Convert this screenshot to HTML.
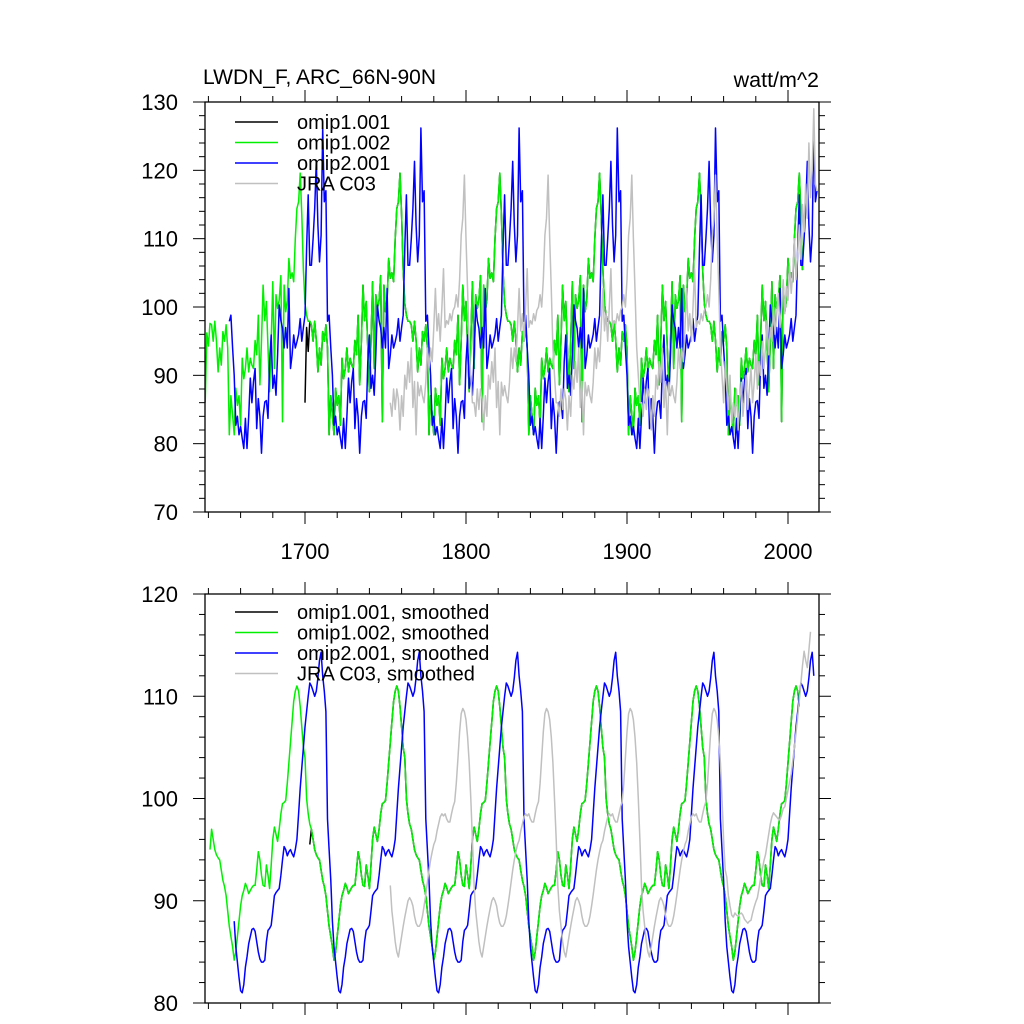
<!DOCTYPE html>
<html><head><meta charset="utf-8"><style>
html,body{margin:0;padding:0;background:#fff;}
svg{display:block;font-family:"Liberation Sans",Helvetica,Arial,sans-serif;}
</style></head><body>
<svg id="chart" width="1024" height="1024" viewBox="0 0 1024 1024" xmlns="http://www.w3.org/2000/svg">
<text x="203" y="84" font-size="21">LWDN_F, ARC_66N-90N</text>
<text x="819" y="87" font-size="21.5" text-anchor="end">watt/m^2</text>
<g id="topPanel"></g>
<g id="botPanel"></g>
</svg>
<script>
// ---- data (one forcing cycle per series; runs are cycled) ----
const greenCycleStart = 1638;   // omip1: 62-yr CORE cycles
const blueCycleStart = 1653;    // omip2: 61-yr JRA cycles
const nCycles = 6;
const greenRaw = [100.5,98.8,97.9,97.9,97.4,95,97.9,95.1,90.5,94,91.5,96.4,95,97.4,94,81.3,87,84.2,81.3,88.1,85.6,87,82.7,92.5,89.5,91,94,90.5,92.5,91.5,91,95.1,93,98.8,88.6,95.1,103.2,98,100.8,94,87.6,95,103.7,91,101.8,99.8,101,104.6,83.2,103.2,99.3,101,107.1,104.2,105,103.7,110,114.4,115.4,119.6,113.5,105.4];
const greenRawFirst = [86,96.2,94.3,97.6];
const blackRawFirst = [86,97,93.5];
const blueRaw = [97.9,98.8,94,90,82.7,84,81.3,82.5,80.8,79.3,83.7,79.3,84,89.6,86,89.1,91,82.2,86.6,84,78.6,84,86.1,86.3,83.7,92,95.9,88.1,90,87.1,93,100.3,98,96.9,94,97,94,102.7,91,93,95.9,94,94.9,96,98.3,95,97,98.8,108.6,116.4,106.1,106.1,110,114.4,121.3,112,106.6,110.5,126.2,115.4,117];
const greenSmooth = [104,100,98.5,97.5,97,96,95,94.5,94.2,94,93,92,91.4,90.5,89,87.5,86.5,85.5,84.2,85,86.5,88,89.5,90.5,91,91.7,91.3,90.7,91,91.3,91.5,91.5,93,94.8,94,92.5,91.5,91.4,93.5,92.5,91.2,93.5,96,97.2,96.5,95.8,97,98.5,99.5,99.6,99.8,101.5,103.5,105.5,107.5,109.5,110.5,111,110.5,109,107,105];
const greenSmoothFirst = [94.3,95,95.4,95];
const blackSmoothFirst = [95.7,95.7,95.7,95.5];
const blueSmooth = [98,95,92,88,85.5,84,82.5,81.2,81,81.8,83.5,84.5,85.8,86.5,87.2,87.3,87,86,85,84.3,84,84,84.2,86,87.1,87.3,87.6,89,90.5,90.8,91,91.2,92.5,94,95.3,95,94.4,94.8,95,94.6,94.3,95,96,98.5,101,103,105,107,108.5,110,111.3,111,110.5,110,110.5,111.8,113.5,114.3,112,110.5,108.5];
const grayCycleStarts = [1753,1805,1857,1909];
const grayRaw = [86,84,88,85,88,86.5,82,87,84,90,88,92,89,94,85.3,89.1,81.3,89,87,88.5,87,86,89,94,91,94,92,97,102.7,96.5,99,95,100,105.6,97,98,97.5,99,98,99.5,100,101.8,100,104,110.5,113,119.3,110,102.5,94,90,86];
const graySmooth = [91.5,89,87.5,86,85,84.5,85.5,86.5,87.5,88.4,89.2,90,90.3,90,89.5,88.5,87.8,87.5,87.5,87.8,88.5,89.5,90.6,91.8,93,94,94.8,95.5,95.9,96.8,97.5,98.2,98.5,98.3,98.5,98,97.7,97.7,98.5,99.2,99.7,101.5,104,106.5,108.3,108.8,108.5,107.7,106,103.5,100,96];
const grayTailStart = 1961;
const grayTailRaw = [92,88,85,90,83,86,84,88,82,86,89,84,87,90,85,88,91,86,89,93,88,92,90,95,91,94,98,93,97,95,100,96,99,102,97,100,104,99,103,101,106,102,105,110,104,108,112,107,115,111,118,113,124,116,120,129,118,117];
const grayTailSmooth = [93,92.3,90.5,89.5,88.6,88.4,88.8,88.6,88.5,88.7,88.8,88.6,88.2,88,87.8,88,88.1,88.8,89.4,89.9,90.3,91.2,92.2,93,93.9,94.5,95.5,96.5,97.5,98.2,98.6,98.4,98.2,98,97.9,98.4,99,99.2,100,100.8,101.6,102.4,103.7,105,106.4,108,109.6,111.3,113,114.4,113.5,112.8,114.5,116.3];
const topTicks = [70,80,90,100,110,120,130];
const botTicks = [80,90,100,110,120];
const xTicks = [1700,1800,1900,2000];
const topLegend = ["omip1.001","omip1.002","omip2.001","JRA C03"];
const botLegend = ["omip1.001, smoothed","omip1.002, smoothed","omip2.001, smoothed","JRA C03, smoothed"];

// ---- scales ----
const X0=205, X1=819;
const xs = yr => 305 + (yr-1700)*1.61;
const topP = {y0:512, y1:102, vmin:70, vmax:130};
const botP = {y0:1003, y1:594, vmin:80, vmax:120};
const ys = (p,v) => p.y0 - (v-p.vmin)*(p.y0-p.y1)/(p.vmax-p.vmin);
const NS="http://www.w3.org/2000/svg";
const GREEN='#00f000';
function mk(tag, attrs, parent){const e=document.createElementNS(NS,tag);for(const k in attrs)e.setAttribute(k,attrs[k]);parent.appendChild(e);return e;}

function cycled(start, cyc, n, first){
  const pts=[];
  for(let c=0;c<n;c++) for(let t=0;t<cyc.length;t++){
    let v=cyc[t];
    if(c===0 && first && t<first.length) v=first[t];
    pts.push([start+c*cyc.length+t, v]);
  }
  return pts;
}
function grayPts(cyc, tailStart, tail){
  const pts=[];
  grayCycleStarts.forEach(s=>cyc.forEach((v,t)=>pts.push([s+t,v])));
  tail.forEach((v,i)=>pts.push([tailStart+i,v]));
  return pts;
}
function clipRange(pts,a,b){return pts.filter(p=>p[0]>=a&&p[0]<=b);}

function drawPanel(g,p,ticks,vstep,series,legend,legY){
  series.forEach(s=>{
    const d=s.pts.map((q,i)=>(i?'L':'M')+xs(q[0]).toFixed(1)+','+ys(p,q[1]).toFixed(1)).join('');
    const path=mk('path',{d:d,fill:'none',stroke:s.color,'stroke-width':1.5,'stroke-linejoin':'round'},g);
    
    
  });
  const fr=mk('rect',{x:X0,y:p.y1,width:X1-X0,height:p.y0-p.y1,fill:'none',stroke:'#000','stroke-width':1.3},g);
  
  
  for(let v=p.vmin; v<=p.vmax+0.001; v+=vstep){
    const y=ys(p,v); const major=Math.abs(v%10)<0.01; const L=major?12:6;
    const t1=mk('line',{x1:X0-L,x2:X0,y1:y,y2:y,stroke:'#000','stroke-width':1},g);
    
    
    const t2=mk('line',{x1:X1,x2:X1+L,y1:y,y2:y,stroke:'#000','stroke-width':1},g);
    
    
  }
  ticks.forEach(v=>{
    const t=mk('text',{x:178,y:ys(p,v)+8,'font-size':22,'text-anchor':'end'},g);
    t.textContent=v;
    
    
  });
  for(let yr=1640; yr<=2019; yr+=20){
    const x=xs(yr); const major=yr%100===0; const L=major?12:6;
    const a=mk('line',{x1:x,x2:x,y1:p.y0,y2:p.y0+L,stroke:'#000','stroke-width':1},g);
    
    
    const b=mk('line',{x1:x,x2:x,y1:p.y1-L,y2:p.y1,stroke:'#000','stroke-width':1},g);
    
    
  }
  const cols=['#000',GREEN,'#0000ff','#c0c0c0'];
  legend.forEach((lab,i)=>{
    const y=legY+i*20.5;
    const ln=mk('line',{x1:235,x2:278,y1:y,y2:y,stroke:cols[i],'stroke-width':1.5},g);
    
    
    const tx=mk('text',{x:297,y:y+7,'font-size':20},g);
    tx.textContent=lab;
    
    
  });
}

const topG=document.getElementById('topPanel'), botG=document.getElementById('botPanel');
const gRaw=cycled(greenCycleStart,greenRaw,nCycles,greenRawFirst);
const kRaw=clipRange(cycled(1700,greenRaw,nCycles-1,blackRawFirst),1700,2009);
const bRaw=cycled(blueCycleStart,blueRaw,nCycles,null);
const yRaw=grayPts(grayRaw,grayTailStart,grayTailRaw);
drawPanel(topG,topP,topTicks,2,[
  {name:'omip1-001-line',color:'#000',pts:kRaw},
  {name:'omip1-002-line',color:GREEN,pts:gRaw},
  {name:'omip2-001-line',color:'#0000ff',pts:bRaw},
  {name:'jra-c03-line',color:'#c0c0c0',pts:yRaw}
],topLegend,122);
const gS=clipRange(cycled(greenCycleStart,greenSmooth,nCycles,greenSmoothFirst),1641,2007);
const kS=clipRange(cycled(1700,greenSmooth,nCycles-1,blackSmoothFirst),1703,2007);
const bS=clipRange(cycled(blueCycleStart,blueSmooth,nCycles,null),1656,2016);
const yS=grayPts(graySmooth,grayTailStart,grayTailSmooth);
drawPanel(botG,botP,botTicks,2,[
  {name:'omip1-001-smoothed-line',color:'#000',pts:kS},
  {name:'omip1-002-smoothed-line',color:GREEN,pts:gS},
  {name:'omip2-001-smoothed-line',color:'#0000ff',pts:bS},
  {name:'jra-c03-smoothed-line',color:'#c0c0c0',pts:yS}
],botLegend,612);
xTicks.forEach(yr=>{
  const t=mk('text',{x:xs(yr),y:559,'font-size':22,'text-anchor':'middle'},topG);
  t.textContent=yr;
  
  
});
</script>
</body></html>
